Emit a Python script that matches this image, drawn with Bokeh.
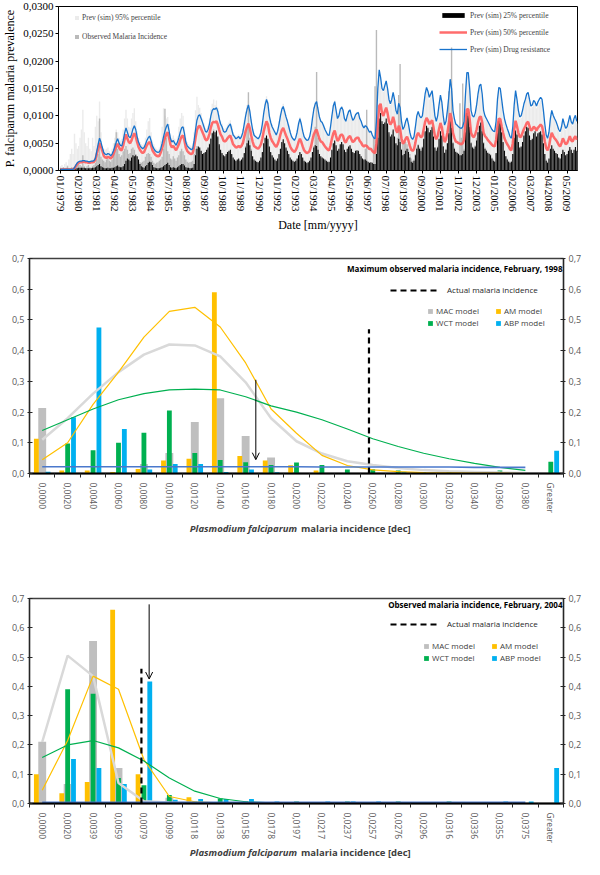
import numpy as np
from bokeh.plotting import figure
from bokeh.models import (ColumnDataSource, FixedTicker, CustomJSTickFormatter, Legend,
                          LegendItem, LinearAxis, Label, Arrow, OpenHead, Range1d)
from bokeh.layouts import column
from bokeh.embed import file_html
from bokeh.resources import INLINE

# ===================== TOP CHART DATA (monthly, 01/1979 - 12/2009, units 1e-4) =====================
date_tick_labels = ["01/1979", "02/1980", "03/1981", "04/1982", "05/1983", "06/1984", "07/1985",
                    "08/1986", "09/1987", "10/1988", "11/1989", "12/1990", "01/1992", "02/1993",
                    "03/1994", "04/1995", "05/1996", "06/1997", "07/1998", "08/1999", "09/2000",
                    "10/2001", "11/2002", "12/2003", "01/2005", "02/2006", "03/2007", "04/2008",
                    "05/2009"]

prev_95 = [8,10,6,12,15,10,20,30,40,30, 67,50,40, 45,60,75,111,70,50,45,60,40,35,60,45, 80,100,90,
           126,70,45,40,38,40,42,35,32, 40,50,60,75,70, 60,55,58,75,95,111, 95,80,78,95,105,114,
           90,72,60,52,48,46,50, 60,75,90,96, 70,55,48,42,40,38,42, 55,80,114,100,95,98,
           85,66,60,64,58,52, 62,80,95,105,100, 80,60,52,48,46,44,50, 70,110,135,120,115,
           105,95,86,78,76,82,95,112,122, 130,120,128,115,102,90,86, 78,76,78,84,88,92,
           82,70,66,62,64,66,62, 66,76,92,108,120,128, 112,94,78,68,64,62,60, 64,74,90,110,126,136,
           126,104,92,84,78,72,68, 76,90,104,116,122, 112,102,94,84,74,64,60, 58,62,74,88,98,
           88,74,64,60,58,58,64, 78,98,116,126,130, 116,100,92,90,84,78,72, 68,66,82,102,120,128,
           112,98,102,114,118,112, 98,92,102,110,112,102, 94,96,104,106,108,98,
           90,84,80,84,82,78,72,74,66,62,60, 92,150,180,168,148, 144,152,160,148,128,120,
           128,140,128,110,102,120, 112,90,76,80,88,94, 84,70,62,58,62,80,98,
           106,98,94,98,118,136,148, 140,130,136,142,122,98,88, 98,116,134,122,98,82,
           88,108,132,160,146,108, 94,84,82,80,78,76,80,88, 136,172,172,146,108,98,
           96,102,116,136,150,152, 136,108,98,92,88,84,78, 74,70,70,88,126,146,144,
           126,106,92,82,76,68,62, 58,78,116,140,126,106, 94,96,106,118,126,134,138,
           126,114,116,124,120,114,120, 124,128,124,106,82,64,58, 68,92,106,98,92,88,80,
           72,68,78,92,82,74,78, 86,96,86,82,92,96,86]

observed = [5,4,6,3,5,8,4,3,6,5, 6,8,10, 12,10,8,28,8,5,8,10,6,5,8,10, 14,20,30,
            95,25,20,18,15,20,22,18,16, 20,35,50,70,40, 30,25,28,35,40,45, 38,30,32,40,42,38,
            30,25,20,15,14,16,18, 25,30,32,30, 25,18,14,12,14,15,18, 20,25,40,113,60,35,
            30,22,20,26,22,18, 24,28,35,40,35, 28,20,16,14,15,16,18, 30,40,45,42,40,
            35,28,30,32,36,40,50,60,70, 75,65,70,60,45,35,30, 26,24,28,32,34,36,
            28,22,18,16,18,20,16, 18,22,30,45,80,143, 60,40,25,18,16,15,14, 16,22,32,48,58,62,
            55,42,32,26,22,18,16, 20,28,40,50,55, 48,40,34,28,22,18,16, 14,16,20,26,32,
            28,22,16,14,12,14,16, 22,32,45,80,180, 60,30,24,22,20,18,16, 14,14,22,36,48,52,
            44,34,38,46,50,46, 36,32,38,42,44,38, 32,30,34,35,34,28,
            24,20,18,40,111,15,12,14,12,60,154, 257,90,80,95,85, 80,84,90,82,66,58,
            62,72,60,48,60,138, 195,40,50,55,52,48, 40,30,22,18,20,30,42,
            48,42,40,44,56,70,80, 76,68,72,78,60,42,40, 44,56,70,62,45,34,
            40,50,145,66,225,52, 42,36,34,32,123,60,159,40, 68,100,96,78,52,44,
            42,46,60,70,80,86, 70,52,42,38,34,32,30, 24,20,18,30,66,88,84,
            68,50,36,26,22,18,16, 18,30,58,70,64,50, 40,42,50,62,70,78,76,
            62,54,56,66,70,60,66, 68,70,64,48,30,20,16, 20,38,44,38,34,30,28,
            22,20,28,36,32,26,28, 34,40,36,30,36,40,34]

prev_25 = [3,3,3,3,3,3,3,3,3,3, 3,4,4, 5,5,5,5,5,4,4,4,4,4,5,5, 6,8,10,
           12,8,6,5,4,4,5,4,4, 5,5,6,8,9, 7,6,6,8,12,18, 22,20,18,24,28,26,
           28,26,20,12,8,6,5, 8,10,14,16, 15,10,6,5,4,4,4, 5,6,8,10,12,14,
           10,6,5,6,5,4, 6,8,10,12,12, 9,6,5,5,4,4,5, 12,28,40,44,42,
           36,30,32,34,38,42,48,58,68, 72,70,73,62,48,38,32, 28,26,30,34,36,38,
           30,24,20,18,20,22,18, 20,24,32,42,50,55, 46,36,26,20,18,16,15, 18,24,34,50,60,64,
           58,44,34,28,24,20,18, 22,30,40,52,57, 50,42,36,30,24,20,18, 16,18,22,28,34,
           30,24,18,16,14,15,18, 24,34,42,46,45, 38,30,26,24,22,20,18, 16,16,24,38,50,55,
           46,36,40,48,52,48, 38,34,40,44,46,40, 34,32,36,37,36,30,
           26,22,20,20,18,16,14,15,14,12,12, 30,60,95,105,90, 85,88,95,86,70,62,
           66,75,62,50,46,58, 52,38,28,30,36,40, 34,24,16,14,18,28,40,
           46,40,36,42,58,72,82, 78,70,74,80,62,42,36, 42,58,72,64,44,32,
           38,50,68,90,78,50, 40,34,32,30,28,28,30,36, 70,105,100,80,50,42,
           40,44,55,70,82,88, 72,50,40,36,32,30,28, 22,18,16,32,68,90,86,
           70,52,36,26,20,16,14, 16,30,60,73,66,52, 42,44,52,64,72,80,78,
           64,56,58,68,72,62,68, 70,72,66,50,30,18,14, 22,40,46,40,36,32,30,
           24,22,30,38,34,28,30, 36,43,38,32,38,43,36]

prev_50 = [2,2,2,2,2,2,2,2,2,2, 4,8,12, 14,15,15,16,16,15,15,14,14,15,15,16, 20,30,40,
           50,44,36,27,24,23,25,24,22, 25,30,37,44,49, 42,38,37,46,57,66, 58,52,50,55,63,68,
           62,52,43,38,34,32,34, 40,46,50,52, 46,37,33,29,27,26,27, 33,41,51,60,66,70,
           59,47,42,45,41,37, 42,48,56,62,64, 55,42,36,33,31,30,32, 44,60,74,80,82,
           76,70,64,57,55,59,67,79,87, 89,88,90,84,74,66,62, 55,53,55,59,62,64,
           56,48,45,42,43,45,42, 45,50,61,72,80,86, 77,64,53,45,43,41,40, 43,48,58,72,82,90,
           84,69,60,54,50,46,43, 48,56,66,74,78, 71,64,58,51,44,39,36, 34,37,43,52,58,
           52,44,37,34,32,33,36, 44,56,66,72,75, 66,58,53,52,48,44,41, 38,37,46,58,68,73,
           63,54,57,64,66,63, 54,51,57,61,63,57, 52,54,58,60,60,54,
           51,46,44,46,45,42,39,40,36,33,32, 50,86,118,122,105, 100,108,115,105,90,84,
           88,98,88,74,69,82, 76,59,49,52,58,62, 55,45,38,36,39,51,64,
           69,64,61,63,76,89,96, 92,85,88,92,79,63,57, 63,76,87,79,63,52,
           57,69,85,105,94,69, 60,53,52,50,49,48,50,56, 88,112,112,94,69,63,
           61,66,75,88,97,99, 88,69,63,60,56,53,50, 47,45,44,56,81,95,94,
           81,69,59,53,48,44,39, 37,50,75,91,81,69, 61,62,69,76,81,87,89,
           81,73,75,80,78,73,78, 81,84,81,69,53,41,37, 44,59,69,63,59,56,52,
           47,44,50,59,53,48,50, 56,63,55,53,59,63,56]

drug_res = [2,2,2,2,2,2,2,2,2,2, 5,10,14, 16,17,17,18,18,17,17,16,16,17,17,18, 22,35,48,
            59,52,42,33,30,29,31,30,27, 30,36,44,52,58, 50,46,45,55,68,78, 70,62,60,66,76,82,
            75,62,52,46,42,40,42, 48,55,60,63, 55,45,40,36,34,33,34, 40,50,62,72,80,85,
            72,58,52,55,50,46, 52,60,70,78,80, 68,52,45,42,40,38,40, 55,75,92,100,102,
            95,88,80,72,70,75,85,100,110, 113,112,115,108,95,85,80, 72,70,72,78,82,85,
            75,65,62,58,60,62,58, 62,70,85,100,112,120, 108,90,75,65,62,60,58, 62,70,85,105,120,130,
            122,100,88,80,75,70,65, 72,85,100,112,117, 108,98,90,80,70,62,58, 55,60,70,85,95,
            85,72,62,58,55,56,62, 75,95,112,122,126, 112,98,90,88,82,75,70, 65,64,80,100,118,126,
            110,95,100,112,116,110, 95,90,100,108,111,100, 92,95,102,105,106,95,
            90,82,78,82,80,75,70,72,65,60,58, 90,150,184,170,150, 146,155,164,150,130,122,
            130,143,130,110,103,123, 115,90,75,80,90,96, 85,70,60,57,62,80,100,
            108,100,96,100,120,140,152, 145,134,140,146,125,100,90, 100,120,138,125,100,83,
            90,110,135,167,150,110, 95,85,83,80,78,77,80,90, 140,179,179,150,110,100,
            98,105,120,140,155,158, 140,110,100,95,90,85,80, 75,72,71,90,130,152,150,
            130,110,95,85,77,70,62, 59,80,120,146,130,110, 98,100,110,122,130,140,143,
            130,118,120,128,125,118,125, 130,134,130,110,85,65,59, 70,95,110,101,95,90,83,
            75,71,80,95,85,77,80, 90,101,89,85,95,101,90]

# ===================== HISTOGRAM DATA: February 1998 =====================
cats_1998 = ["0,0000", "0,0020", "0,0040", "0,0060", "0,0080", "0,0100", "0,0120", "0,0140",
             "0,0160", "0,0180", "0,0200", "0,0220", "0,0240", "0,0260", "0,0280", "0,0300",
             "0,0320", "0,0340", "0,0360", "0,0380", "Greater"]
mac_1998 = [0.213, 0.005, 0.0, 0.004, 0.031, 0.067, 0.168, 0.245, 0.122, 0.052, 0.005, 0.002,
            0.0, 0.0, 0.008, 0.004, 0.0, 0.0, 0.0, 0.0, 0.0]
am_1998 = [0.113, 0.010, 0.010, 0.005, 0.015, 0.042, 0.048, 0.590, 0.057, 0.042, 0.027, 0.010,
           0.0, 0.0, 0.0, 0.0, 0.0, 0.0, 0.0, 0.0, 0.0]
wct_1998 = [0.0, 0.098, 0.076, 0.100, 0.133, 0.205, 0.067, 0.044, 0.037, 0.028, 0.036, 0.028,
            0.013, 0.014, 0.010, 0.004, 0.006, 0.0, 0.010, 0.0, 0.038]
abp_1998 = [0.006, 0.183, 0.475, 0.145, 0.013, 0.031, 0.031, 0.005, 0.013, 0.004, 0.0, 0.0,
            0.0, 0.0, 0.006, 0.0, 0.0, 0.0, 0.0, 0.0, 0.074]
mac_fit_1998 = [0.11, 0.18, 0.26, 0.33, 0.387, 0.42, 0.417, 0.381, 0.297, 0.18, 0.105, 0.065,
                0.04, 0.028, 0.018, 0.011, 0.007, 0.005, 0.003, 0.002]
am_fit_1998 = [0.045, 0.10, 0.225, 0.33, 0.444, 0.528, 0.541, 0.477, 0.36, 0.21, 0.131, 0.059,
               0.026, 0.012, 0.006, 0.003, 0.002, 0.001, 0.001, 0.0]
wct_fit_1998 = [0.14, 0.175, 0.21, 0.24, 0.26, 0.272, 0.275, 0.272, 0.25, 0.22, 0.2, 0.175,
                0.145, 0.113, 0.088, 0.066, 0.048, 0.033, 0.02, 0.01]
abp_fit_1998 = [0.022, 0.022, 0.022, 0.022, 0.022, 0.022, 0.022, 0.022, 0.022, 0.022, 0.022,
                0.021, 0.021, 0.021, 0.021, 0.021, 0.021, 0.02, 0.02, 0.02]
bin_1998 = 0.002
actual_1998 = 0.0257
arrow_1998 = 0.0168

# ===================== HISTOGRAM DATA: February 2004 =====================
cats_2004 = ["0,0000", "0,0020", "0,0039", "0,0059", "0,0079", "0,0099", "0,0118", "0,0138",
             "0,0158", "0,0178", "0,0197", "0,0217", "0,0237", "0,0257", "0,0276", "0,0296",
             "0,0316", "0,0336", "0,0355", "0,0375", "Greater"]
mac_2004 = [0.211, 0.067, 0.555, 0.121, 0.0, 0.020, 0.0, 0.0, 0.0, 0.0, 0.0, 0.0, 0.0, 0.0,
            0.0, 0.0, 0.0, 0.0, 0.0, 0.0, 0.0]
am_2004 = [0.100, 0.035, 0.073, 0.662, 0.100, 0.003, 0.021, 0.0, 0.0, 0.0, 0.0, 0.0, 0.0, 0.0,
           0.0, 0.0, 0.0, 0.0, 0.0, 0.0, 0.0]
wct_2004 = [0.0, 0.390, 0.375, 0.087, 0.062, 0.029, 0.007, 0.017, 0.008, 0.0, 0.007, 0.0,
            0.007, 0.0, 0.007, 0.0, 0.007, 0.0, 0.0, 0.0, 0.0]
abp_2004 = [0.005, 0.152, 0.121, 0.067, 0.417, 0.013, 0.015, 0.015, 0.015, 0.007, 0.0, 0.007,
            0.007, 0.007, 0.0, 0.0, 0.0, 0.0, 0.007, 0.007, 0.121]
mac_fit_2004 = [0.21, 0.505, 0.435, 0.07, 0.008, 0.003, 0.002, 0.001, 0.001, 0.0, 0.0, 0.0,
                0.0, 0.0, 0.0, 0.0, 0.0, 0.0, 0.0, 0.0]
am_fit_2004 = [0.045, 0.215, 0.435, 0.39, 0.15, 0.024, 0.006, 0.002, 0.001, 0.0, 0.0, 0.0,
               0.0, 0.0, 0.0, 0.0, 0.0, 0.0, 0.0, 0.0]
wct_fit_2004 = [0.157, 0.2, 0.215, 0.19, 0.145, 0.087, 0.042, 0.017, 0.006, 0.002, 0.001, 0.0,
                0.0, 0.0, 0.0, 0.0, 0.0, 0.0, 0.0, 0.0]
abp_fit_2004 = [0.004, 0.004, 0.004, 0.004, 0.004, 0.004, 0.004, 0.004, 0.004, 0.004, 0.004,
                0.004, 0.004, 0.004, 0.004, 0.004, 0.004, 0.004, 0.004, 0.004]
bin_2004 = 0.0375 / 19
actual_2004 = 0.0077
arrow_2004 = 0.0083

# ===================== STYLE =====================
SERIF = "Liberation Serif"
SANS = "Open Sans"
W = 584


def no_align(p):
    if "frame_align" in p.properties():
        p.frame_align = False


# ===================== TOP CHART =====================
H1, T1, B1, L1, R1 = 234, 6, 62, 54, 7
p1 = figure(width=W, height=H1, x_range=Range1d(-1.5, 371.5), y_range=Range1d(0, 0.03),
            output_backend="svg", toolbar_location=None,
            min_border_left=L1, min_border_right=R1, min_border_top=T1, min_border_bottom=B1)
no_align(p1)
p1.grid.visible = False
p1.outline_line_color = "black"
p1.outline_line_width = 1


def msrc(vals):
    v = np.array(vals, dtype=float) * 1e-4
    return ColumnDataSource(dict(m=np.arange(len(v)), v=v))


r95 = p1.vbar(x="m", top="v", width=1.0, source=msrc(prev_95), fill_color="#ebebeb", line_color=None)
robs = p1.vbar(x="m", top="v", width=1.0, source=msrc(observed), fill_color="#bababa", line_color=None)
r25 = p1.vbar(x="m", top="v", width=0.75, source=msrc(prev_25), fill_color="black", line_color=None)
r50 = p1.line(x="m", y="v", source=msrc(prev_50), line_color="#ff5c5c", line_width=2.5, line_alpha=0.9)
rdr = p1.line(x="m", y="v", source=msrc(drug_res), line_color="#1873cc", line_width=1.3)

p1.yaxis.ticker = FixedTicker(ticks=[0, 0.005, 0.01, 0.015, 0.02, 0.025, 0.03])
p1.yaxis.formatter = CustomJSTickFormatter(code="return tick.toFixed(4).replace('.', ',');")
p1.yaxis.axis_label = "P. falciparum malaria prevalence"
p1.xaxis.ticker = FixedTicker(ticks=[13 * i for i in range(len(date_tick_labels))])
p1.xaxis.major_label_overrides = {13 * i: lab for i, lab in enumerate(date_tick_labels)}
p1.xaxis.major_label_orientation = "vertical"
p1.xaxis.axis_label = "Date [mm/yyyy]"
for ax in (p1.xaxis[0], p1.yaxis[0]):
    ax.axis_label_text_font = SERIF
    ax.axis_label_text_font_size = "12px"
    ax.axis_label_text_font_style = "normal"
    ax.axis_label_text_color = "black"
    ax.major_label_text_font = SERIF
    ax.major_label_text_font_size = "11px"
    ax.major_label_text_color = "black"
    ax.major_tick_out = 3
    ax.major_tick_in = 0
    ax.minor_tick_out = 0
    ax.minor_tick_in = 0
    ax.axis_line_color = "black"
    ax.major_tick_line_color = "black"
    ax.major_label_standoff = 2
    ax.axis_label_standoff = 3

fw1 = W - L1 - R1
fh1 = H1 - T1 - B1
leg_left = Legend(items=[LegendItem(label="Prev (sim) 95% percentile", renderers=[r95]),
                         LegendItem(label="Observed Malaria Incidence", renderers=[robs])],
                  location=(16, fh1 - 37), glyph_width=5, glyph_height=5, label_height=10,
                  label_standoff=3, spacing=9, padding=0, margin=0,
                  label_text_font=SERIF, label_text_font_size="7.5px",
                  border_line_color=None, background_fill_alpha=0)
leg_right = Legend(items=[LegendItem(label="Prev (sim) 25% percentile", renderers=[r25]),
                          LegendItem(label="Prev (sim) 50% percentile", renderers=[r50]),
                          LegendItem(label="Prev (sim) Drug resistance", renderers=[rdr])],
                   location=(fw1 - 142, fh1 - 50), glyph_width=28, glyph_height=6, label_height=10,
                   label_standoff=3, spacing=7, padding=0, margin=0,
                   label_text_font=SERIF, label_text_font_size="7.5px",
                   border_line_color=None, background_fill_alpha=0)
p1.add_layout(leg_left)
p1.add_layout(leg_right)


# ===================== HISTOGRAM CHARTS =====================
BL, BR = 29, 18


def hist_chart(height, b_top, b_bottom, cats, mac, am, wct, abp, mac_fit, am_fit, wct_fit, abp_fit,
               bin_w, actual, actual_top, arrow_val, arrow_top, arrow_tip, title,
               leg_act_dr, leg_mod_dr, leg_act_top, leg_mod_top):
    n = len(cats)
    fw = W - BL - BR
    fh = height - b_top - b_bottom
    p = figure(width=W, height=height, x_range=Range1d(-0.5, n - 0.5), y_range=Range1d(0, 0.7),
               output_backend="svg", toolbar_location=None,
               min_border_left=BL, min_border_right=BR, min_border_top=b_top, min_border_bottom=b_bottom)
    no_align(p)
    p.grid.visible = False
    p.outline_line_color = "#404040"
    p.outline_line_width = 1.5
    idx = np.arange(n)
    src = ColumnDataSource(dict(x=idx, xa=idx - 0.23, xb=idx + 0.23,
                                mac=mac, am=am, wct=wct, abp=abp))
    r_mac = p.vbar(x="x", top="mac", width=0.31, source=src, fill_color="#bfbfbf", line_color=None)
    r_am = p.vbar(x="xa", top="am", width=0.19, source=src, fill_color="#ffc000", line_color=None)
    r_wct = p.vbar(x="x", top="wct", width=0.19, source=src, fill_color="#00b050", line_color=None)
    r_abp = p.vbar(x="xb", top="abp", width=0.19, source=src, fill_color="#00b0f0", line_color=None)
    lx = np.arange(len(mac_fit))
    p.line(lx, mac_fit, line_color="#d9d9d9", line_width=2.5)
    p.line(lx, am_fit, line_color="#ffc000", line_width=1.2)
    p.line(lx, wct_fit, line_color="#00b050", line_width=1.2)
    p.line(lx, abp_fit, line_color="#4a78cc", line_width=1.6)
    ax_pos = actual / bin_w
    r_act = p.line([ax_pos, ax_pos], [0, actual_top], line_color="black", line_width=2.2,
                   line_dash="6 4")
    ar_pos = arrow_val / bin_w
    p.add_layout(Arrow(end=OpenHead(size=7, line_width=1), x_start=ar_pos, y_start=arrow_top,
                       x_end=ar_pos, y_end=arrow_tip, line_width=1, line_color="black"))

    yt = FixedTicker(ticks=[0, 0.1, 0.2, 0.3, 0.4, 0.5, 0.6, 0.7])
    yf = CustomJSTickFormatter(code="return tick.toFixed(1).replace('.', ',');")
    p.yaxis.ticker = yt
    p.yaxis.formatter = yf
    right = LinearAxis(ticker=yt, formatter=yf)
    p.add_layout(right, "right")
    for ax in (p.yaxis[0], right):
        ax.major_label_text_font = SANS
        ax.major_label_text_font_size = "9px"
        ax.major_label_text_color = "#595959"
        ax.major_tick_in = 3
        ax.major_tick_out = 2
        ax.minor_tick_in = 0
        ax.minor_tick_out = 0
        ax.axis_line_color = "#262626"
        ax.axis_line_width = 1.2
        ax.major_tick_line_color = "#262626"
        ax.major_label_standoff = 3
    xa = p.xaxis[0]
    xa.ticker = FixedTicker(ticks=list(idx), minor_ticks=list(np.arange(n + 1) - 0.5))
    xa.major_label_overrides = {int(i): c for i, c in enumerate(cats)}
    xa.major_label_orientation = "vertical"
    xa.major_label_text_font = SANS
    xa.major_label_text_font_size = "8.5px"
    xa.major_label_text_color = "#595959"
    xa.major_tick_in = 0
    xa.major_tick_out = 0
    xa.minor_tick_in = 0
    xa.minor_tick_out = 4
    xa.minor_tick_line_color = "#262626"
    xa.axis_line_color = "black"
    xa.axis_line_width = 2
    xa.major_label_standoff = 5

    p.add_layout(Label(x=fw - 4, y=fh - 9.5, x_units="screen", y_units="screen", text=title,
                       text_align="right", text_baseline="middle", text_font=SANS,
                       text_font_size="8px", text_font_style="bold", text_color="black"))
    leg_a = Legend(items=[LegendItem(label="Actual malaria incidence", renderers=[r_act])],
                   location=(fw - leg_act_dr, fh - leg_act_top - 5), glyph_width=47, glyph_height=8,
                   label_height=10, label_standoff=10, padding=0, margin=0, spacing=0,
                   label_text_font=SANS, label_text_font_size="8px", label_text_color="#262626",
                   border_line_color=None, background_fill_alpha=0)
    leg_m = Legend(items=[LegendItem(label="MAC model", renderers=[r_mac]),
                          LegendItem(label="AM model", renderers=[r_am]),
                          LegendItem(label="WCT model", renderers=[r_wct]),
                          LegendItem(label="ABP model", renderers=[r_abp])],
                   orientation="horizontal", ncols=2,
                   location=(fw - leg_mod_dr, fh - leg_mod_top - 16), glyph_width=6, glyph_height=6,
                   label_height=10, label_width=58, label_standoff=3, padding=0, margin=0, spacing=1,
                   label_text_font=SANS, label_text_font_size="8px", label_text_color="#404040",
                   border_line_color=None, background_fill_alpha=0)
    p.add_layout(leg_a)
    p.add_layout(leg_m)
    return p


def xtitle(height):
    t = figure(width=W, height=height, output_backend="svg", toolbar_location=None,
               x_axis_location=None, y_axis_location=None, min_border=0,
               x_range=Range1d(0, 1), y_range=Range1d(0, 1))
    no_align(t)
    t.grid.visible = False
    t.outline_line_color = None
    cx = BL + (W - BL - BR) / 2
    t.add_layout(Label(x=cx - 1, y=height / 2, x_units="screen", y_units="screen",
                       text="Plasmodium falciparum", text_align="right", text_baseline="middle",
                       text_font=SANS, text_font_size="9.5px", text_font_style="bold italic",
                       text_color="#404040"))
    t.add_layout(Label(x=cx + 3, y=height / 2, x_units="screen", y_units="screen",
                       text="malaria incidence [dec]", text_align="left", text_baseline="middle",
                       text_font=SANS, text_font_size="9.5px", text_font_style="bold",
                       text_color="#404040"))
    return t


p2 = hist_chart(286, 24, 47, cats_1998, mac_1998, am_1998, wct_1998, abp_1998,
                mac_fit_1998, am_fit_1998, wct_fit_1998, abp_fit_1998,
                bin_1998, actual_1998, 0.47, arrow_1998, 0.305, 0.045,
                "Maximum observed malaria incidence, February, 1998",
                176, 139, 32, 54)
t2 = xtitle(16)
p3 = hist_chart(309, 62, 38, cats_2004, mac_2004, am_2004, wct_2004, abp_2004,
                mac_fit_2004, am_fit_2004, wct_fit_2004, abp_fit_2004,
                bin_2004, actual_2004, 0.46, arrow_2004, 0.68, 0.425,
                "Observed malaria incidence, February, 2004",
                176, 143, 30, 53)
t3 = xtitle(14)

layout = column(p1, p2, t2, p3, t3)
open("out.html", "w").write(file_html(layout, INLINE))
